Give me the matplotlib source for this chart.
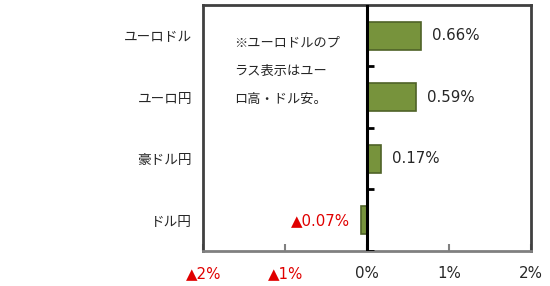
import matplotlib; matplotlib.use("Agg")
import matplotlib.pyplot as plt
from matplotlib.ticker import FixedLocator

plt.rcParams.update({"font.family": ["DejaVu Sans", "Noto Sans CJK JP"], "font.size": 9.5})
JP = ["Noto Sans CJK JP", "DejaVu Sans"]
BAR = "#77933C"; EDGE = "#4F6228"; RED = "#E00000"; DARK = "#262626"

# data (top to bottom)
pairs = ["ユーロドル", "ユーロ円", "豪ドル円", "ドル円"]
changes = [0.66, 0.59, 0.17, -0.07]
xticks = [-2, -1, 0, 1, 2]
note = ["※ユーロドルのプ", "ラス表示はユー", "ロ高・ドル安。"]

def pct(v, dec):
    s = f"{abs(v):.{dec}f}%"
    return ("▲" + s) if v < 0 else s

fig = plt.figure(figsize=(5.5, 2.86), dpi=100)
ax = fig.add_axes([0.3695, 0.1224, 0.5964, 0.8602])

ypos = list(range(len(pairs)))[::-1]
ax.barh(ypos, changes, height=0.46, color=BAR, edgecolor=EDGE, lw=1.2, zorder=2)
ax.set_xlim(-2, 2); ax.set_ylim(-0.5, len(pairs) - 0.5)

# zero line with small ticks at category boundaries
ax.axvline(0, color="black", lw=2.2, zorder=3)
for b in [i + 0.5 for i in range(-1, len(pairs) - 1)]:
    ax.plot([0, 0.08], [b, b], color="black", lw=2, zorder=3, solid_capstyle="butt")

# value labels
for y, v in zip(ypos, changes):
    if v >= 0:
        ax.annotate(pct(v, 2), (v, y), xytext=(8, 0), textcoords="offset points",
                    va="center", ha="left", color=DARK, fontsize=10.8)
    else:
        ax.annotate(pct(v, 2), (v, y), xytext=(-8, 0), textcoords="offset points",
                    va="center", ha="right", color=RED, fontsize=10.8)

# category labels
ax.set_yticks(ypos)
ax.set_yticklabels(pairs, family=JP, fontsize=9.8, color=DARK)
ax.tick_params(axis="y", length=0, pad=8)

# x ticks
ax.xaxis.set_major_locator(FixedLocator(xticks))
ax.set_xticklabels([pct(t, 0) for t in xticks], fontsize=10.8)
for lab, t in zip(ax.get_xticklabels(), xticks):
    lab.set_color(RED if t < 0 else DARK)
ax.tick_params(axis="x", direction="in", length=5, color="#808080", width=1.5, pad=11)

for s in ["top", "left", "right"]:
    ax.spines[s].set_color("#404040"); ax.spines[s].set_linewidth(2)
ax.spines["bottom"].set_color("#808080"); ax.spines["bottom"].set_linewidth(2)

# note text
for i, line in enumerate(note):
    ax.text(0.095, 0.845 - i * 0.114, line, transform=ax.transAxes, family=JP,
            fontsize=9.5, color=DARK, va="center", ha="left")

fig.savefig("out.png", dpi=100)
